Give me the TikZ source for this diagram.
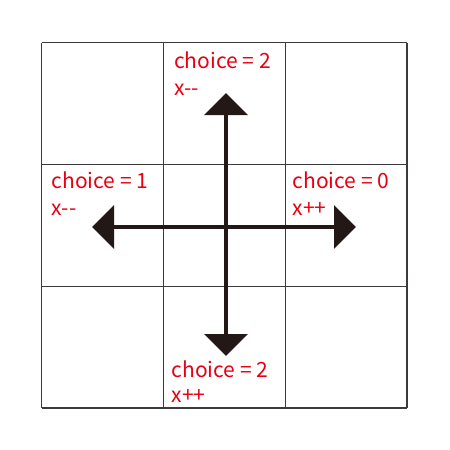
\documentclass[tikz,border=0pt]{standalone}
\usepackage{fontspec}
\setmainfont{Noto Sans CJK JP}
\usetikzlibrary{arrows.meta}
\definecolor{lblred}{HTML}{E60012}
\definecolor{gridgray}{HTML}{3E3A39}
\definecolor{arrowblk}{HTML}{231815}
\tikzset{
  lbl/.style={text=lblred, font=\fontsize{21}{25}\selectfont, anchor=base west, inner sep=0pt},
  move/.style={line width=4pt, arrowblk, -{Triangle[length=22pt,width=43pt]}}
}

\begin{document}
\begin{tikzpicture}[x=1pt,y=-1pt]
    \useasboundingbox (0,0) rectangle (450,450);
    \foreach \k in {41.5,163.5,285.5,407}{
        \draw[gridgray, line width=1.8pt](\k,43)--(\k,408);
        \draw[gridgray, line width=1.8pt](41.5,\k+1)--(407,\k+1);
    }
    \coordinate (c) at (226,227);
    \coordinate (up) at (226,93);
    \coordinate (down) at (226,356);
    \coordinate (lft) at (92,227);
    \coordinate (rgt) at (356,227);
    \draw[move](c)--(up);
    \draw[move](c)--(down);
    \draw[move](c)--(lft);
    \draw[move](c)--(rgt);

    \node[lbl] (upc) at (174,68) {choice = 2};
    \node[lbl] (upx) at (174,95) {x-{}-};
    \node[lbl] (lftc) at (51.5,188) {choice = 1};
    \node[lbl] (lftx) at (51.5,215) {x-{}-};
    \node[lbl] (rgtc) at (292.5,188) {choice = 0};
    \node[lbl] (rgtx) at (292.5,215) {x++};
    \node[lbl] (downc) at (171.5,377) {choice = 2};
    \node[lbl] (downx) at (171.5,402) {x++};
\end{tikzpicture}
\end{document}
